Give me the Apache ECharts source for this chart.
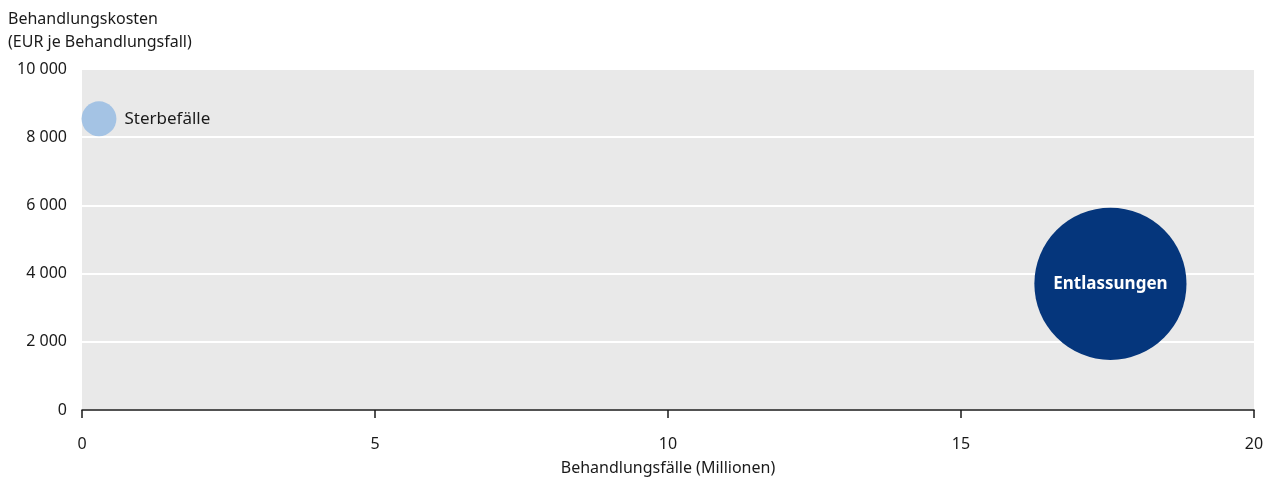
<!DOCTYPE html>
<html>
<head>
<meta charset="utf-8">
<script src="https://cdn.jsdelivr.net/npm/echarts@6/dist/echarts.min.js"></script>
<style>
  html, body { margin: 0; padding: 0; background: #fff; }
  #chart { width: 1267px; height: 478px; }
</style>
</head>
<body>
<div id="chart"></div>
<script>
// Werte
var kategorien = ['Sterbefälle', 'Entlassungen'];
var faelle = [0.29, 17.55];          // Behandlungsfälle in Millionen
var kosten = [8540, 3700];           // EUR je Behandlungsfall
var blasenWert = [3.4, 64.8];        // Größe der Blase
var xTicks = [0, 5, 10, 15, 20];
var yTicks = [0, 2000, 4000, 6000, 8000, 10000];

var farben = ['#a4c3e4', '#05367c'];
var schrift = '"Noto Sans", "Open Sans", sans-serif';

var chartDom = document.getElementById('chart');
var myChart = echarts.init(chartDom);

function tausender(v) {
  return String(v).replace(/\B(?=(\d{3})+(?!\d))/g, ' ');
}

var daten = kategorien.map(function (name, i) {
  return {
    name: name,
    value: [faelle[i], kosten[i], blasenWert[i]],
    itemStyle: { color: farben[i], opacity: 1 },
    label: i === 0
      ? { show: true, position: 'right', distance: 8, color: '#1a1a1a', fontSize: 17, fontFamily: schrift, formatter: '{b}' }
      : { show: true, position: 'inside', color: '#ffffff', fontSize: 17, fontWeight: 'bold', fontFamily: schrift, formatter: '{b}' }
  };
});

var option = {
  animation: false,
  title: {
    text: 'Behandlungskosten\n(EUR je Behandlungsfall)',
    left: 8,
    top: 8,
    padding: 0,
    textStyle: { fontSize: 16, fontWeight: 'normal', color: '#1a1a1a', fontFamily: schrift, lineHeight: 23 }
  },
  grid: { left: 82, right: 13, top: 69, bottom: 68, outerBoundsMode: 'none', containLabel: false, backgroundColor: '#e9e9e9', show: true, borderWidth: 0 },
  xAxis: {
    type: 'value',
    min: xTicks[0],
    max: xTicks[xTicks.length - 1],
    interval: 5,
    name: 'Behandlungsfälle (Millionen)',
    nameLocation: 'middle',
    nameGap: 50,
    nameTextStyle: { fontSize: 16, color: '#1a1a1a', fontFamily: schrift },
    axisLine: { show: true, lineStyle: { color: '#1a1a1a', width: 1.5 } },
    axisTick: { show: true, length: 8, lineStyle: { color: '#1a1a1a', width: 1.5 } },
    axisLabel: { fontSize: 16, color: '#1a1a1a', fontFamily: schrift, margin: 26 },
    splitLine: { show: false }
  },
  yAxis: {
    type: 'value',
    min: yTicks[0],
    max: yTicks[yTicks.length - 1],
    interval: 2000,
    axisLine: { show: false },
    axisTick: { show: false },
    axisLabel: { fontSize: 16, color: '#1a1a1a', fontFamily: schrift, margin: 15, formatter: tausender },
    splitLine: { show: true, lineStyle: { color: '#ffffff', width: 2 } }
  },
  series: [
    {
      type: 'scatter',
      data: daten,
      symbolSize: function (val) {
        return 18.9 * Math.sqrt(val[2]);
      },
      emphasis: { disabled: true }
    }
  ]
};

option && myChart.setOption(option);
</script>
</body>
</html>
